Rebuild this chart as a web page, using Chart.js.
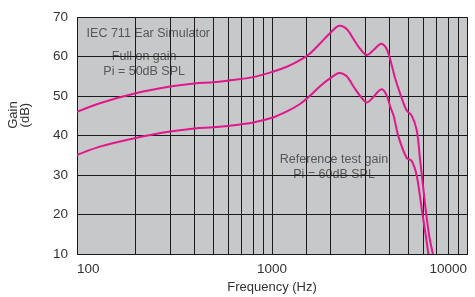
<!DOCTYPE html>
<html>
<head>
<meta charset="utf-8">
<script src="https://cdn.jsdelivr.net/npm/chart.js@4.4.1/dist/chart.umd.min.js"></script>
<style>
html,body{margin:0;padding:0;background:#fff;}
#wrap{width:475px;height:297px;position:relative;}
</style>
</head>
<body>
<div id="wrap"><canvas id="c" width="475" height="297"></canvas></div>
<script>
// ---- data ----
const freqFull = [100,131,200,300,400,500,609,800,1000,1200,1392,1567,1763,2000,2213,2415,2612,2825,3060,3304,3622,3846,4000,4277,4550,4898,5196,5521,5742,5970,6210,6455,6670,6900];
const gainFull = [46.0,48.2,50.7,52.4,53.2,53.5,54.0,54.8,56.1,57.5,59.1,60.8,63.3,66.1,67.8,67.0,64.5,62.0,60.4,61.6,63.25,62.2,60.0,54.6,50.5,46.4,45.1,41.4,34.0,26.6,19.2,13.5,10.2,5.0];
const freqRef  = [100,131,200,300,400,500,609,800,1000,1200,1392,1567,1763,2000,2213,2415,2612,2825,3060,3304,3622,3846,4047,4204,4447,4898,5196,5521,5848,6090,6331,6550];
const gainRef  = [35.1,37.2,39.4,41.0,41.8,42.1,42.5,43.3,44.5,46.2,48.0,50.1,52.5,54.6,55.85,55.0,52.5,50.1,48.4,49.7,51.7,50.5,47.2,45.0,39.8,34.4,33.6,29.9,21.7,15.9,10.2,5.0];
const xTickLabels = [100, 1000, 10000];
const yTicks = [10,20,30,40,50,60,70];
const notes = [
  {text:'IEC 711 Ear Simulator', f:112, g:65.8, align:'left'},
  {text:'Full on gain', f:221, g:59.9, align:'center'},
  {text:'Pi = 50dB SPL', f:221, g:56.2, align:'center'},
  {text:'Reference test gain', f:2080, g:34.0, align:'center'},
  {text:'Pi = 60dB SPL', f:2080, g:30.0, align:'center'}
];
const yTitle = ['Gain','(dB)'];
const xTitle = 'Frequency (Hz)';

const toPts = (xs, ys) => xs.map((x,i)=>({x:x, y:ys[i]}));
const FONT = '"Liberation Sans", Arial, Helvetica, sans-serif';
const MAG = '#e0188c';

const bgPlugin = {
  id:'bg',
  beforeDraw(chart){
    const {ctx, chartArea:a, scales} = chart;
    ctx.save();
    ctx.fillStyle = '#c7c8ca';
    ctx.fillRect(a.left, a.top, a.right-a.left, a.bottom-a.top);
    ctx.font = '12.5px ' + FONT;
    ctx.fillStyle = '#575757';
    ctx.textBaseline = 'middle';
    notes.forEach(n=>{
      ctx.textAlign = n.align;
      ctx.fillText(n.text, scales.x.getPixelForValue(n.f), scales.y.getPixelForValue(n.g));
    });
    ctx.restore();
  },
  afterDraw(chart){
    const {ctx, chartArea:a} = chart;
    const cy = a.top + 98;
    [[yTitle[0],13.5],[yTitle[1],25.5]].forEach(([t,x])=>{
      ctx.save();
      ctx.font = '13px ' + FONT;
      ctx.fillStyle = '#333';
      ctx.textAlign = 'center';
      ctx.textBaseline = 'middle';
      ctx.translate(x, cy);
      ctx.rotate(-Math.PI/2);
      ctx.fillText(t, 0, 0);
      ctx.restore();
    });
  }
};

new Chart(document.getElementById('c'), {
  type:'line',
  data:{
    datasets:[
      {data:toPts(freqFull,gainFull), borderColor:MAG, borderWidth:2, pointRadius:0, tension:0.35, fill:false},
      {data:toPts(freqRef,gainRef), borderColor:MAG, borderWidth:2, pointRadius:0, tension:0.35, fill:false}
    ]
  },
  options:{
    responsive:false,
    animation:false,
    devicePixelRatio:1,
    layout:{padding:{top:11,right:8,left:0,bottom:0}},
    plugins:{legend:{display:false}, tooltip:{enabled:false}},
    scales:{
      x:{
        type:'logarithmic', min:100, max:10000,
        afterFit(s){ s.height = 43; },
        grid:{color:'#1a1a1a', lineWidth:1, drawTicks:false},
        border:{color:'#1a1a1a', width:1},
        ticks:{
          autoSkip:false, maxRotation:0, align:'inner', padding:7,
          color:'#333', font:{family:FONT, size:13.5},
          callback(v){ return xTickLabels.includes(v) ? String(v) : ''; }
        },
        title:{display:true, text:xTitle, color:'#333', font:{family:FONT, size:13}, padding:{top:0,bottom:2}}
      },
      y:{
        min:10, max:70,
        afterFit(s){ s.width = 77; },
        afterBuildTicks(s){ s.ticks = yTicks.map(v=>({value:v})); },
        grid:{color:'#1a1a1a', lineWidth:1, drawTicks:false},
        border:{color:'#1a1a1a', width:1},
        ticks:{padding:9, color:'#333', font:{family:FONT, size:13.5}}
      }
    }
  },
  plugins:[bgPlugin]
});
</script>
</body>
</html>
